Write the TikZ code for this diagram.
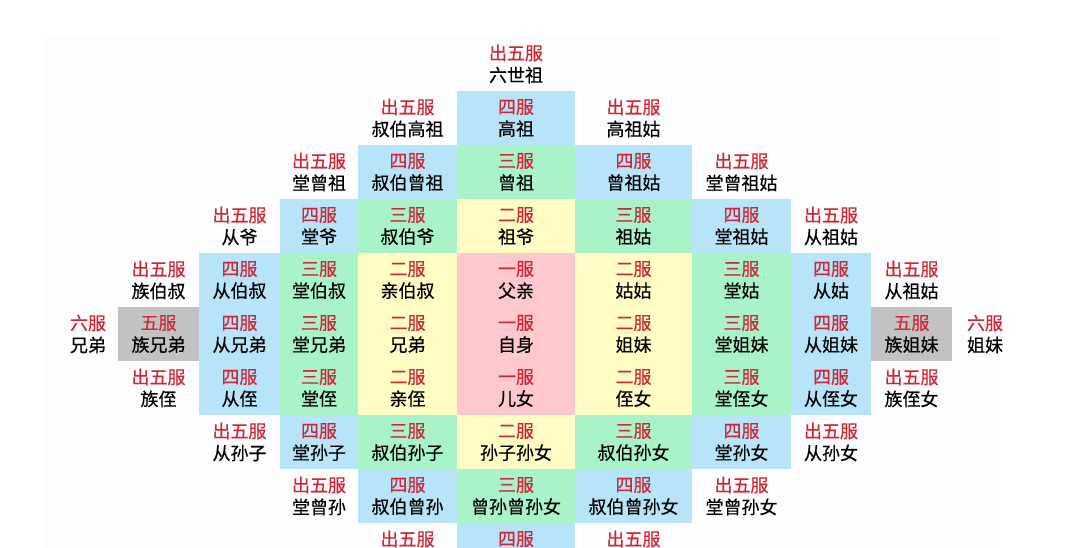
\documentclass[tikz,border=0pt]{standalone}
\usepackage{fontspec}
\setmainfont{Noto Sans CJK SC}[FakeBold=0.4]
\definecolor{cblue}{HTML}{B8E4FA}
\definecolor{cgreen}{HTML}{A8F4C8}
\definecolor{cyellow}{HTML}{FFFDC4}
\definecolor{cpink}{HTML}{FFC8CC}
\definecolor{cgray}{HTML}{C2C2C2}
\definecolor{cred}{HTML}{CC2838}
\definecolor{cfaint}{HTML}{FDFDFD}
\newcommand\rd[1]{\textcolor{cred}{#1}}
\tikzset{
  cell/.style={inner sep=0pt, outer sep=0pt, minimum height=54pt, align=center,
    font=\fontsize{18}{22}\selectfont, text=black},
  wL5/.style={cell, minimum width=78pt},
  wL4/.style={cell, minimum width=81pt},
  wL3/.style={cell, minimum width=81pt},
  wL2/.style={cell, minimum width=78pt},
  wL1/.style={cell, minimum width=99pt},
  wC/.style={cell, minimum width=118pt},
  wR1/.style={cell, minimum width=117pt},
  wR2/.style={cell, minimum width=99pt},
  wR3/.style={cell, minimum width=80pt},
  wR4/.style={cell, minimum width=81pt},
  wR5/.style={cell, minimum width=66pt},
}
\begin{document}
\begin{tikzpicture}[x=1pt, y=-1pt]
\useasboundingbox (0,0) rectangle (1081,548);
\fill[white] (0,0) rectangle (1081,548);
\clip (0,0) rectangle (1081,548);
\fill[cfaint] (45,36) rectangle (1000,548);
% row 0
\node[wC] (c0) at (516,64) {\rd{出五服}\\六世祖};
% row 1
\node[wL1] (l1r1) at (407.5,118) {\rd{出五服}\\叔伯高祖};
\node[wC, fill=cblue] (c1) at (516,118) {\rd{四服}\\高祖};
\node[wR1] (r1r1) at (633.5,118) {\rd{出五服}\\高祖姑};
% row 2
\node[wL2] (l2r2) at (319,172) {\rd{出五服}\\堂曾祖};
\node[wL1, fill=cblue] (l1r2) at (407.5,172) {\rd{四服}\\叔伯曾祖};
\node[wC, fill=cgreen] (c2) at (516,172) {\rd{三服}\\曾祖};
\node[wR1, fill=cblue] (r1r2) at (633.5,172) {\rd{四服}\\曾祖姑};
\node[wR2] (r2r2) at (741.5,172) {\rd{出五服}\\堂曾祖姑};
% row 3
\node[wL3] (l3r3) at (239.5,226) {\rd{出五服}\\从爷};
\node[wL2, fill=cblue] (l2r3) at (319,226) {\rd{四服}\\堂爷};
\node[wL1, fill=cgreen] (l1r3) at (407.5,226) {\rd{三服}\\叔伯爷};
\node[wC, fill=cyellow] (c3) at (516,226) {\rd{二服}\\祖爷};
\node[wR1, fill=cgreen] (r1r3) at (633.5,226) {\rd{三服}\\祖姑};
\node[wR2, fill=cblue] (r2r3) at (741.5,226) {\rd{四服}\\堂祖姑};
\node[wR3] (r3r3) at (831,226) {\rd{出五服}\\从祖姑};
% row 4
\node[wL4] (l4r4) at (158.5,280) {\rd{出五服}\\族伯叔};
\node[wL3, fill=cblue] (l3r4) at (239.5,280) {\rd{四服}\\从伯叔};
\node[wL2, fill=cgreen] (l2r4) at (319,280) {\rd{三服}\\堂伯叔};
\node[wL1, fill=cyellow] (l1r4) at (407.5,280) {\rd{二服}\\亲伯叔};
\node[wC, fill=cpink] (c4) at (516,280) {\rd{一服}\\父亲};
\node[wR1, fill=cyellow] (r1r4) at (633.5,280) {\rd{二服}\\姑姑};
\node[wR2, fill=cgreen] (r2r4) at (741.5,280) {\rd{三服}\\堂姑};
\node[wR3, fill=cblue] (r3r4) at (831,280) {\rd{四服}\\从姑};
\node[wR4] (r4r4) at (911.5,280) {\rd{出五服}\\从祖姑};
% row 5
\node[wL5] (l5r5) at (88,334) {\rd{六服}\\兄弟};
\node[wL4, fill=cgray] (l4r5) at (158.5,334) {\rd{五服}\\族兄弟};
\node[wL3, fill=cblue] (l3r5) at (239.5,334) {\rd{四服}\\从兄弟};
\node[wL2, fill=cgreen] (l2r5) at (319,334) {\rd{三服}\\堂兄弟};
\node[wL1, fill=cyellow] (l1r5) at (407.5,334) {\rd{二服}\\兄弟};
\node[wC, fill=cpink] (c5) at (516,334) {\rd{一服}\\自身};
\node[wR1, fill=cyellow] (r1r5) at (633.5,334) {\rd{二服}\\姐妹};
\node[wR2, fill=cgreen] (r2r5) at (741.5,334) {\rd{三服}\\堂姐妹};
\node[wR3, fill=cblue] (r3r5) at (831,334) {\rd{四服}\\从姐妹};
\node[wR4, fill=cgray] (r4r5) at (911.5,334) {\rd{五服}\\族姐妹};
\node[wR5] (r5r5) at (985,334) {\rd{六服}\\姐妹};
% row 6
\node[wL4] (l4r6) at (158.5,388) {\rd{出五服}\\族侄};
\node[wL3, fill=cblue] (l3r6) at (239.5,388) {\rd{四服}\\从侄};
\node[wL2, fill=cgreen] (l2r6) at (319,388) {\rd{三服}\\堂侄};
\node[wL1, fill=cyellow] (l1r6) at (407.5,388) {\rd{二服}\\亲侄};
\node[wC, fill=cpink] (c6) at (516,388) {\rd{一服}\\儿女};
\node[wR1, fill=cyellow] (r1r6) at (633.5,388) {\rd{二服}\\侄女};
\node[wR2, fill=cgreen] (r2r6) at (741.5,388) {\rd{三服}\\堂侄女};
\node[wR3, fill=cblue] (r3r6) at (831,388) {\rd{四服}\\从侄女};
\node[wR4] (r4r6) at (911.5,388) {\rd{出五服}\\族侄女};
% row 7
\node[wL3] (l3r7) at (239.5,442) {\rd{出五服}\\从孙子};
\node[wL2, fill=cblue] (l2r7) at (319,442) {\rd{四服}\\堂孙子};
\node[wL1, fill=cgreen] (l1r7) at (407.5,442) {\rd{三服}\\叔伯孙子};
\node[wC, fill=cyellow] (c7) at (516,442) {\rd{二服}\\孙子孙女};
\node[wR1, fill=cgreen] (r1r7) at (633.5,442) {\rd{三服}\\叔伯孙女};
\node[wR2, fill=cblue] (r2r7) at (741.5,442) {\rd{四服}\\堂孙女};
\node[wR3] (r3r7) at (831,442) {\rd{出五服}\\从孙女};
% row 8
\node[wL2] (l2r8) at (319,496) {\rd{出五服}\\堂曾孙};
\node[wL1, fill=cblue] (l1r8) at (407.5,496) {\rd{四服}\\叔伯曾孙};
\node[wC, fill=cgreen] (c8) at (516,496) {\rd{三服}\\曾孙曾孙女};
\node[wR1, fill=cblue] (r1r8) at (633.5,496) {\rd{四服}\\叔伯曾孙女};
\node[wR2] (r2r8) at (741.5,496) {\rd{出五服}\\堂曾孙女};
% row 9 (cut off)
\node[wL1] (l1r9) at (407.5,550) {\rd{出五服}\\\vphantom{出}};
\node[wC, fill=cblue] (c9) at (516,550) {\rd{四服}\\\vphantom{出}};
\node[wR1] (r1r9) at (633.5,550) {\rd{出五服}\\\vphantom{出}};
\end{tikzpicture}
\end{document}
